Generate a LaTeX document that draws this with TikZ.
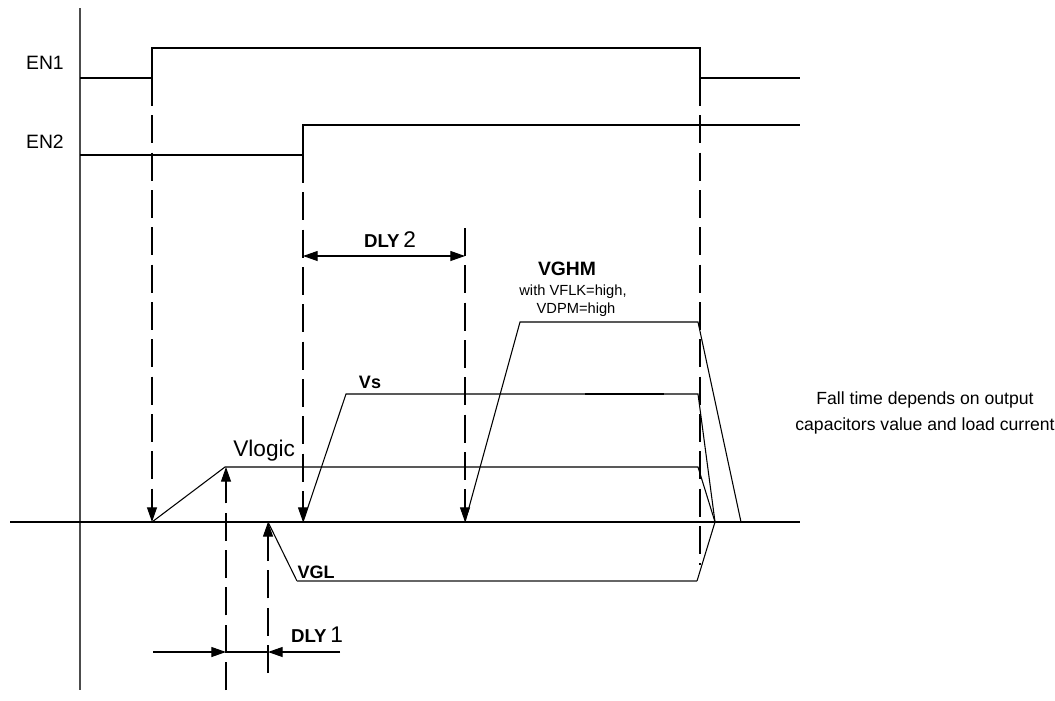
\documentclass[tikz,border=0pt]{standalone}
\usepackage{fontspec}
\setmainfont{Liberation Sans}
\usetikzlibrary{arrows.meta}

\tikzset{
  sig/.style={line width=0.8pt},
  guide/.style={line width=0.8pt, dash pattern=on 21pt off 7pt},
  lbl/.style={inner sep=0pt, font=\fontsize{14.5}{16}\selectfont},
  blbl/.style={inner sep=0pt, font=\fontsize{13.5}{15}\selectfont\bfseries},
}
\newcommand{\dlytext}[1]{{\fontsize{14}{16}\selectfont\bfseries DLY}\ {\fontsize{17}{19}\selectfont #1}}

\begin{document}
\begin{tikzpicture}[x=0.75pt, y=-0.75pt, >={Triangle[length=11pt, width=7.5pt]}]
  \useasboundingbox (0,0) rectangle (1055,700);
  % axes
  \draw[line width=0.8pt, black!70] (80,8) -- (80,690);
  \draw[sig] (10,522) -- (800,522);
  % enable signals
  \draw[sig] (80,78) -- (152,78) -- (152,48) -- (700,48) -- (700,78) -- (800,78);
  \draw[sig] (80,155) -- (303,155) -- (303,125) -- (800,125);
  \node[lbl, anchor=east] (en1) at (64,63) {EN1};
  \node[lbl, anchor=east] (en2) at (64,142) {EN2};

  % timing guides
  \draw[guide, ->] (152,78) -- (152,522);
  \draw[guide, ->] (303,155) -- (303,522);
  \draw[guide, ->] (465,228) -- (465,522);
  \draw[guide] (700,78) -- (700,565);
  \draw[guide, ->] (226,690) -- (226,467);
  \draw[guide, ->] (268,673) -- (268,522);

  % delays
  \draw[sig, <->] (303,256) -- (465,256);
  \node[inner sep=0pt] (dly2) at (390,240) {\dlytext{2}};
  \draw[sig, ->] (153,652) -- (226,652);
  \draw[sig, ->] (340,652) -- (268,652);
  \draw[sig] (226,652) -- (268,652);
  \node[inner sep=0pt] (dly1) at (317,635) {\dlytext{1}};

  % supply rails
  \draw[sig] (152,522) -- (225,467) -- (698,467) -- (715,522);
  \draw[sig] (303,522) -- (346,394) -- (698,394) -- (715,522);
  \draw[line width=1.4pt] (585,394) -- (664,394);
  \draw[sig] (465,522) -- (520,322) -- (698,322) -- (741,522);
  \draw[sig] (268,522) -- (297,581);
  \draw[line width=0.9pt, black!60] (297,581) -- (697,581);
  \draw[sig] (697,581) -- (715,522);

  % rail labels
  \node[inner sep=0pt, anchor=west, font=\fontsize{17}{19}\selectfont] (vlogic) at (233,451) {Vlogic};
  \node[blbl] (vs) at (370,382) {Vs};
  \node[blbl] (vgl) at (316,572) {VGL};
  \node[blbl, font=\fontsize{14.5}{16}\selectfont\bfseries] (vghm) at (567,269) {VGHM};
  \node[inner sep=0pt, font=\fontsize{11}{13}\selectfont] (vflk) at (573,292) {with VFLK=high,};
  \node[inner sep=0pt, font=\fontsize{11}{13}\selectfont] (vdpm) at (576,310) {VDPM=high};
  \node[inner sep=0pt, align=center, font=\fontsize{13.2}{19}\selectfont] (fall) at (925,413)
    {Fall time depends on output\\capacitors value and load current};
\end{tikzpicture}
\end{document}
